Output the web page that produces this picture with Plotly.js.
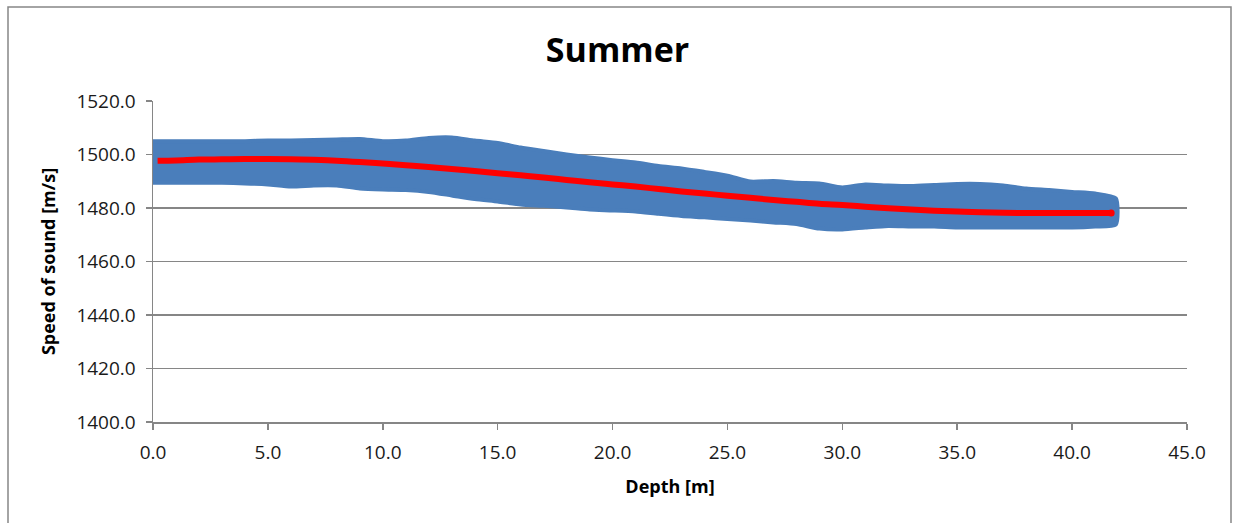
<!DOCTYPE html>
<html>
<head>
<meta charset="utf-8">
<script src="https://cdn.plot.ly/plotly-3.0.1.min.js"></script>
<style>html,body{margin:0;padding:0;background:#fff;}#chart{width:1235px;height:523px;}</style>
</head>
<body>
<div id="chart"></div>
<script>
// Depth [m] at which the scatter band envelope was read
const bandDepth = [0,1,2,3,4,5,6,7,8,9,10,11,12,13,14,15,16,17,18,19,20,21,22,23,24,25,26,27,28,29,30,31,32,33,34,35,36,37,38,39,40,41,41.9];
// Upper edge of the measured points [m/s]
const bandUpper = [1505.0,1505.0,1505.0,1505.0,1505.0,1505.2,1505.2,1505.4,1505.6,1505.8,1505.0,1505.2,1506.2,1506.4,1505.2,1504.3,1502.6,1501.3,1500.0,1498.9,1497.9,1497.0,1495.7,1494.8,1493.5,1492.1,1489.9,1490.1,1489.4,1489.2,1487.7,1488.8,1488.4,1488.2,1488.6,1489.0,1489.0,1488.4,1487.3,1486.7,1486.0,1485.4,1483.6];
// Lower edge of the measured points [m/s]
const bandLower = [1489.4,1489.4,1489.4,1489.4,1489.2,1488.8,1488.0,1488.4,1488.4,1487.3,1486.9,1486.7,1486.0,1484.7,1483.4,1482.4,1481.3,1480.8,1480.2,1479.4,1479.1,1478.7,1477.8,1477.0,1476.5,1475.9,1475.3,1474.6,1474.0,1472.3,1472.0,1472.7,1473.3,1473.1,1473.1,1472.7,1472.7,1472.7,1472.7,1472.7,1472.7,1473.1,1473.8];
// Mean speed-of-sound profile (red)
const meanDepth = [0.2,1,2,3,4,5,6,7,8,9,10,11,12,13,14,15,16,17,18,19,20,21,22,23,24,25,26,27,28,29,30,31,32,33,34,35,36,37,38,39,40,41,41.7];
const meanSpeed = [1497.7,1497.8,1498.1,1498.2,1498.3,1498.3,1498.2,1498.0,1497.7,1497.2,1496.6,1496.0,1495.3,1494.6,1493.8,1493.0,1492.2,1491.4,1490.5,1489.6,1488.8,1488.0,1487.1,1486.2,1485.4,1484.6,1483.8,1483.0,1482.3,1481.6,1481.1,1480.5,1479.9,1479.4,1479.0,1478.7,1478.4,1478.2,1478.1,1478.1,1478.1,1478.1,1478.1];

const xTicks = [0,5,10,15,20,25,30,35,40,45];
const yTicks = [1400,1420,1440,1460,1480,1500,1520];

const blue = '#4A7EBB';
const grey = '#868686';

const polyX = bandDepth.concat(bandDepth.slice().reverse());
const polyY = bandUpper.concat(bandLower.slice().reverse());

const traces = [
  {
    x: polyX, y: polyY, type: 'scatter', mode: 'lines',
    fill: 'toself', fillcolor: blue,
    line: {color: blue, width: 4, shape: 'spline', smoothing: 0.6},
    hoverinfo: 'skip', showlegend: false
  },
  {
    x: meanDepth, y: meanSpeed, type: 'scatter', mode: 'lines',
    line: {color: '#FF0000', width: 6, shape: 'spline'},
    showlegend: false
  },
  {
    x: [meanDepth[meanDepth.length-1]], y: [meanSpeed[meanSpeed.length-1]],
    type: 'scatter', mode: 'markers',
    marker: {color: '#FF0000', size: 7},
    showlegend: false
  }
];

const tickFont = {family: 'Open Sans, sans-serif', size: 19, color: '#1a1a1a'};
const titleFont = {family: 'Open Sans, sans-serif', size: 18, color: '#000000', weight: 'bold'};

const layout = {
  width: 1235, height: 523,
  paper_bgcolor: '#ffffff', plot_bgcolor: '#ffffff',
  margin: {l: 153, r: 48, t: 101, b: 101},
  showlegend: false,
  title: {
    text: '<b>Summer</b>',
    font: {family: 'Open Sans, sans-serif', size: 34, color: '#000000'},
    xref: 'container', x: 0.5, xanchor: 'center',
    yref: 'container', y: 1 - 50/523, yanchor: 'middle'
  },
  xaxis: {
    range: [0, 45], tickvals: xTicks, tickformat: '.1f',
    showgrid: false, zeroline: false,
    showline: true, linecolor: grey, linewidth: 1.5,
    ticks: 'outside', ticklen: 6, tickcolor: grey, tickwidth: 1.5,
    tickfont: tickFont, ticklabelstandoff: 7,
    title: {text: 'Depth [m]', font: titleFont, standoff: 16},
    automargin: false
  },
  yaxis: {
    range: [1400, 1520], tickvals: yTicks, tickformat: '.1f',
    showgrid: true, gridcolor: grey, gridwidth: 1.5, zeroline: false,
    showline: true, linecolor: grey, linewidth: 1.5,
    ticks: 'outside', ticklen: 6, tickcolor: grey, tickwidth: 1.5,
    tickfont: tickFont, ticklabelstandoff: 6,
    title: {text: 'Speed of sound [m/s]', font: titleFont, standoff: 16},
    automargin: false
  },
  shapes: [{
    type: 'rect', xref: 'paper', yref: 'paper',
    x0: (8-153)/1034, x1: (1231-153)/1034,
    y0: (422-540)/321, y1: (422-7)/321,
    line: {color: grey, width: 1.5}, fillcolor: 'rgba(0,0,0,0)', layer: 'below'
  }]
};

Plotly.newPlot('chart', traces, layout, {staticPlot: true});
</script>
</body>
</html>
